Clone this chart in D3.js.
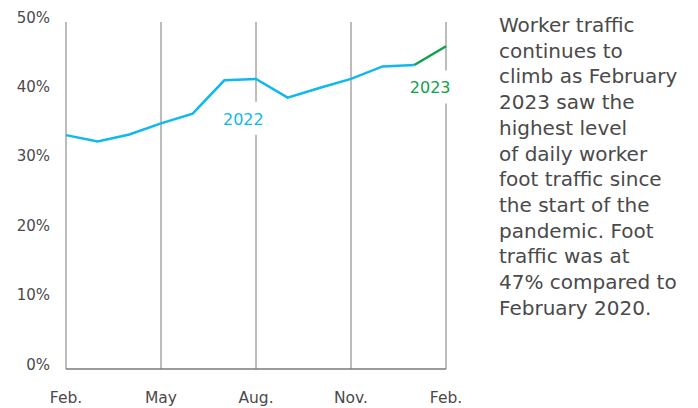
<!DOCTYPE html>
<html>
<head>
<meta charset="utf-8">
<script src="https://cdn.jsdelivr.net/npm/d3@7"></script>
<style>
  body { margin: 0; background: #fff; }
  svg text { font-family: "DejaVu Sans", sans-serif; }
</style>
</head>
<body>
<div id="chart"></div>
<script>
// Monthly worker foot traffic, Feb 2022 - Feb 2023 (% of Feb 2020)
const months = ['Feb', 'Mar', 'Apr', 'May', 'Jun', 'Jul', 'Aug', 'Sep', 'Oct', 'Nov', 'Dec', 'Jan', 'Feb'];
const trafficValues = [33.7, 32.8, 33.8, 35.4, 36.8, 41.6, 41.8, 39.1, 40.5, 41.8, 43.6, 43.8, 46.5];
const xTickLabels = ['Feb.', 'May', 'Aug.', 'Nov.', 'Feb.'];
const yTickValues = [0, 10, 20, 30, 40, 50];
const seriesNames = ['2022', '2023'];
// index where the 2023 segment starts
const split2023 = 11;

const note = [
    'Worker traffic',
    'continues to',
    'climb as February',
    '2023 saw the',
    'highest level',
    'of daily worker',
    'foot traffic since',
    'the start of the',
    'pandemic. Foot',
    'traffic was at',
    '47% compared to',
    'February 2020.'
];

const width = 698;
const height = 408;
const blue = '#0fb8ee';
const green = '#0fa14c';
const textColor = '#4a4a4a';

const svg = d3.select('#chart')
    .append('svg')
    .attr('width', width)
    .attr('height', height);

// Scales
const x = d3.scaleLinear()
    .domain([0, months.length - 1])
    .range([66, 446]);

const y = d3.scaleLinear()
    .domain([0, 50])
    .range([369, 22]);

// Vertical grid lines every 3 months
const gridIdx = d3.range(0, months.length, 3);
svg.selectAll('.grid')
    .data(gridIdx)
    .enter()
    .append('line')
    .attr('x1', d => x(d))
    .attr('x2', d => x(d))
    .attr('y1', y(0))
    .attr('y2', y(50))
    .attr('stroke', '#7a7a7a')
    .attr('stroke-width', 1);

// Baseline
svg.append('line')
    .attr('x1', x(0))
    .attr('x2', x(months.length - 1))
    .attr('y1', y(0))
    .attr('y2', y(0))
    .attr('stroke', '#7a7a7a')
    .attr('stroke-width', 1.5);

// Y tick labels
svg.selectAll('.ytick')
    .data(yTickValues)
    .enter()
    .append('text')
    .attr('x', 50)
    .attr('y', d => y(d) + 0.5)
    .attr('text-anchor', 'end')
    .attr('font-size', 15)
    .attr('fill', textColor)
    .text(d => d + '%');

// X tick labels
svg.selectAll('.xtick')
    .data(gridIdx)
    .enter()
    .append('text')
    .attr('x', d => x(d))
    .attr('y', 403)
    .attr('text-anchor', 'middle')
    .attr('font-size', 15.5)
    .attr('fill', textColor)
    .text((d, i) => xTickLabels[i]);

// Series labels with white knock-out behind them
const seriesLabels = [
    { name: seriesNames[0], i: 5.6, v: 35.2, color: blue },
    { name: seriesNames[1], i: 11.5, v: 39.7, color: green }
];

seriesLabels.forEach(s => {
    svg.append('rect')
        .attr('x', x(s.i) - 22)
        .attr('y', y(s.v) - 23)
        .attr('width', 44)
        .attr('height', 33)
        .attr('fill', '#fff');
    svg.append('text')
        .attr('x', x(s.i))
        .attr('y', y(s.v))
        .attr('text-anchor', 'middle')
        .attr('font-size', 16)
        .attr('fill', s.color)
        .text(s.name);
});

// Lines
const line = d3.line()
    .x(d => x(d.i))
    .y(d => y(d.v));

const points = trafficValues.map((v, i) => ({ i, v }));

svg.append('path')
    .datum(points.slice(0, split2023 + 1))
    .attr('d', line)
    .attr('fill', 'none')
    .attr('stroke', blue)
    .attr('stroke-width', 2.5);

svg.append('path')
    .datum(points.slice(split2023))
    .attr('d', line)
    .attr('fill', 'none')
    .attr('stroke', green)
    .attr('stroke-width', 2.5);

// Annotation
svg.append('text')
    .attr('x', 499)
    .attr('y', 32)
    .attr('font-size', 20)
    .attr('fill', textColor)
    .selectAll('tspan')
    .data(note)
    .enter()
    .append('tspan')
    .attr('x', 499)
    .attr('dy', (d, i) => i === 0 ? 0 : 25.7)
    .text(d => d);
</script>
</body>
</html>
